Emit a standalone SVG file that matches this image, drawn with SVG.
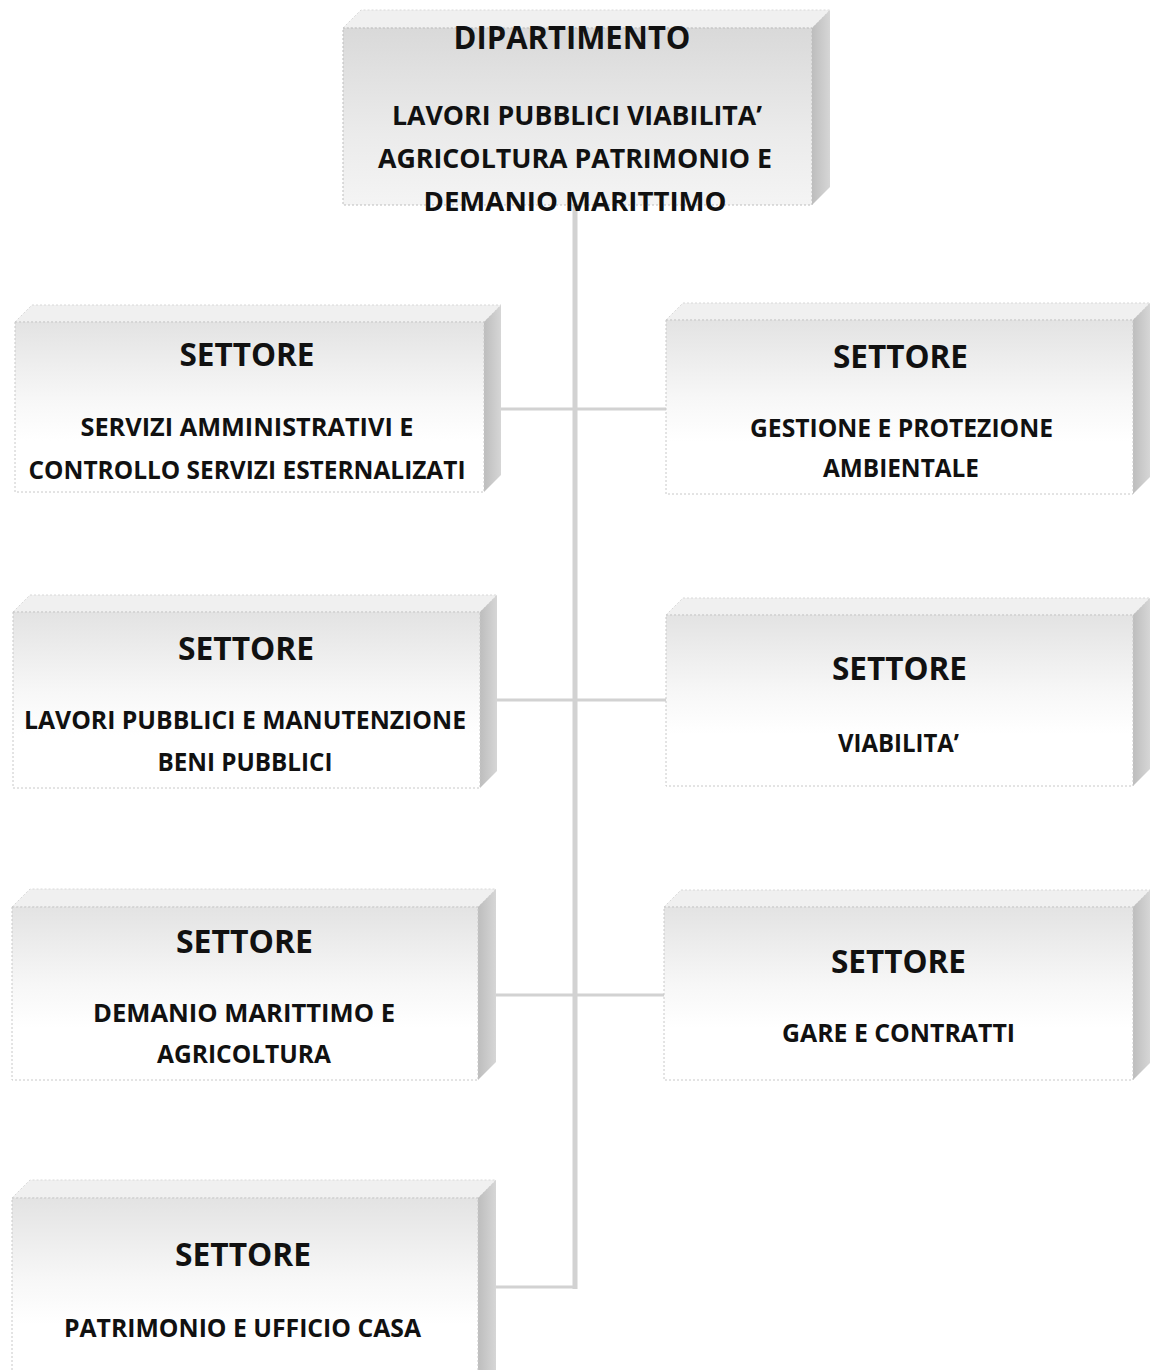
<svg xmlns="http://www.w3.org/2000/svg" width="1152" height="1370" viewBox="0 0 1152 1370">
  <defs>
    <linearGradient id="frontGrad" x1="0" y1="0" x2="0" y2="1">
      <stop offset="0" stop-color="#e3e3e3"/>
      <stop offset="0.45" stop-color="#f7f7f7"/>
      <stop offset="0.7" stop-color="#ffffff"/>
      <stop offset="1" stop-color="#ffffff"/>
    </linearGradient>
    <linearGradient id="frontGradTop" x1="0" y1="0" x2="0" y2="1">
      <stop offset="0" stop-color="#d9d9d9"/>
      <stop offset="0.6" stop-color="#ebebeb"/>
      <stop offset="1" stop-color="#f4f4f4"/>
    </linearGradient>
    <linearGradient id="sideGrad" x1="0" y1="0" x2="1" y2="0">
      <stop offset="0" stop-color="#bdbdbd"/>
      <stop offset="1" stop-color="#d6d6d6"/>
    </linearGradient>
    <style>
      .top { fill: #f0f0f0; stroke: #d8d8d8; stroke-width: 1; stroke-dasharray: 2 2; }
      .front { fill: url(#frontGrad); stroke: #c8c8c8; stroke-width: 1; stroke-dasharray: 2 2; }
      .frontTop { fill: url(#frontGradTop); stroke: #bdbdbd; stroke-width: 1; stroke-dasharray: 2 2; }
      .side { fill: url(#sideGrad); stroke: none; }
      .conn { stroke: #d2d2d2; fill: none; stroke-linecap: butt; }
      text { font-family: "Open Sans", "Noto Sans", "Liberation Sans", sans-serif; font-weight: bold; fill: #111111; text-anchor: middle; }
      .h { font-size: 32px; }
      .s1 { font-size: 27px; }
      .s { font-size: 25px; }
    </style>
  </defs>
  <rect x="0" y="0" width="1152" height="1370" fill="#ffffff"/>

  <g id="connectors">
    <line class="conn" x1="575" y1="205" x2="575" y2="1289" stroke-width="5"/>
    <line class="conn" x1="501" y1="409" x2="666" y2="409" stroke-width="3"/>
    <line class="conn" x1="497" y1="700" x2="666" y2="700" stroke-width="3"/>
    <line class="conn" x1="496" y1="995" x2="664" y2="995" stroke-width="3"/>
    <line class="conn" x1="496" y1="1287" x2="577" y2="1287" stroke-width="3"/>
  </g>

  <g id="dipartimento">
    <polygon class="top" points="343,28 361,10 830,10 812,28"/>
    <polygon class="side" points="812,28 830,10 830,187 812,205"/>
    <rect class="frontTop" x="343" y="28" width="469" height="177"/>
    <text class="h" x="572" y="48.5" textLength="237" lengthAdjust="spacingAndGlyphs">DIPARTIMENTO</text>
    <text class="s1" x="577" y="125" textLength="370" lengthAdjust="spacingAndGlyphs">LAVORI PUBBLICI VIABILITA’</text>
    <text class="s1" x="575" y="168" textLength="394" lengthAdjust="spacingAndGlyphs">AGRICOLTURA PATRIMONIO E</text>
    <text class="s1" x="575" y="211" textLength="303" lengthAdjust="spacingAndGlyphs">DEMANIO MARITTIMO</text>
  </g>

  <g id="settore-servizi">
    <polygon class="top" points="15,322 32,305 501,305 484,322"/>
    <polygon class="side" points="484,322 501,305 501,475 484,492"/>
    <rect class="front" x="15" y="322" width="469" height="170"/>
    <text class="h" x="247" y="365.5" textLength="135" lengthAdjust="spacingAndGlyphs">SETTORE</text>
    <text class="s" x="247" y="436" textLength="333" lengthAdjust="spacingAndGlyphs">SERVIZI AMMINISTRATIVI E</text>
    <text class="s" x="247" y="479" textLength="437" lengthAdjust="spacingAndGlyphs">CONTROLLO SERVIZI ESTERNALIZATI</text>
  </g>

  <g id="settore-lavori">
    <polygon class="top" points="13,612 30,595 497,595 480,612"/>
    <polygon class="side" points="480,612 497,595 497,771 480,788"/>
    <rect class="front" x="13" y="612" width="467" height="176"/>
    <text class="h" x="246" y="659.5" textLength="136" lengthAdjust="spacingAndGlyphs">SETTORE</text>
    <text class="s" x="245" y="729" textLength="442" lengthAdjust="spacingAndGlyphs">LAVORI PUBBLICI E MANUTENZIONE</text>
    <text class="s" x="245" y="771" textLength="175" lengthAdjust="spacingAndGlyphs">BENI PUBBLICI</text>
  </g>

  <g id="settore-demanio">
    <polygon class="top" points="12,907 30,889 496,889 478,907"/>
    <polygon class="side" points="478,907 496,889 496,1062 478,1080"/>
    <rect class="front" x="12" y="907" width="466" height="173"/>
    <text class="h" x="244.5" y="952.5" textLength="137" lengthAdjust="spacingAndGlyphs">SETTORE</text>
    <text class="s" x="244" y="1022" textLength="302" lengthAdjust="spacingAndGlyphs">DEMANIO MARITTIMO E</text>
    <text class="s" x="244" y="1063" textLength="174" lengthAdjust="spacingAndGlyphs">AGRICOLTURA</text>
  </g>

  <g id="settore-patrimonio">
    <polygon class="top" points="12,1198 30,1180 496,1180 478,1198"/>
    <polygon class="side" points="478,1198 496,1180 496,1372 478,1372"/>
    <rect class="front" x="12" y="1198" width="466" height="180"/>
    <text class="h" x="243" y="1265.5" textLength="136" lengthAdjust="spacingAndGlyphs">SETTORE</text>
    <text class="s" x="242.5" y="1337" textLength="357" lengthAdjust="spacingAndGlyphs">PATRIMONIO E UFFICIO CASA</text>
  </g>

  <g id="settore-ambiente">
    <polygon class="top" points="666,320 683,303 1150,303 1133,320"/>
    <polygon class="side" points="1133,320 1150,303 1150,477 1133,494"/>
    <rect class="front" x="666" y="320" width="467" height="174"/>
    <text class="h" x="900.5" y="367.5" textLength="135" lengthAdjust="spacingAndGlyphs">SETTORE</text>
    <text class="s" x="901.5" y="437" textLength="303" lengthAdjust="spacingAndGlyphs">GESTIONE E PROTEZIONE</text>
    <text class="s" x="901" y="477" textLength="156" lengthAdjust="spacingAndGlyphs">AMBIENTALE</text>
  </g>

  <g id="settore-viabilita">
    <polygon class="top" points="666,615 683,598 1150,598 1133,615"/>
    <polygon class="side" points="1133,615 1150,598 1150,769 1133,786"/>
    <rect class="front" x="666" y="615" width="467" height="171"/>
    <text class="h" x="899.5" y="679.5" textLength="135" lengthAdjust="spacingAndGlyphs">SETTORE</text>
    <text class="s" x="898.5" y="752" textLength="121" lengthAdjust="spacingAndGlyphs">VIABILITA’</text>
  </g>

  <g id="settore-gare">
    <polygon class="top" points="664,907 681,890 1150,890 1133,907"/>
    <polygon class="side" points="1133,907 1150,890 1150,1063 1133,1080"/>
    <rect class="front" x="664" y="907" width="469" height="173"/>
    <text class="h" x="898.5" y="972.5" textLength="135" lengthAdjust="spacingAndGlyphs">SETTORE</text>
    <text class="s" x="898.5" y="1042" textLength="233" lengthAdjust="spacingAndGlyphs">GARE E CONTRATTI</text>
  </g>
</svg>
